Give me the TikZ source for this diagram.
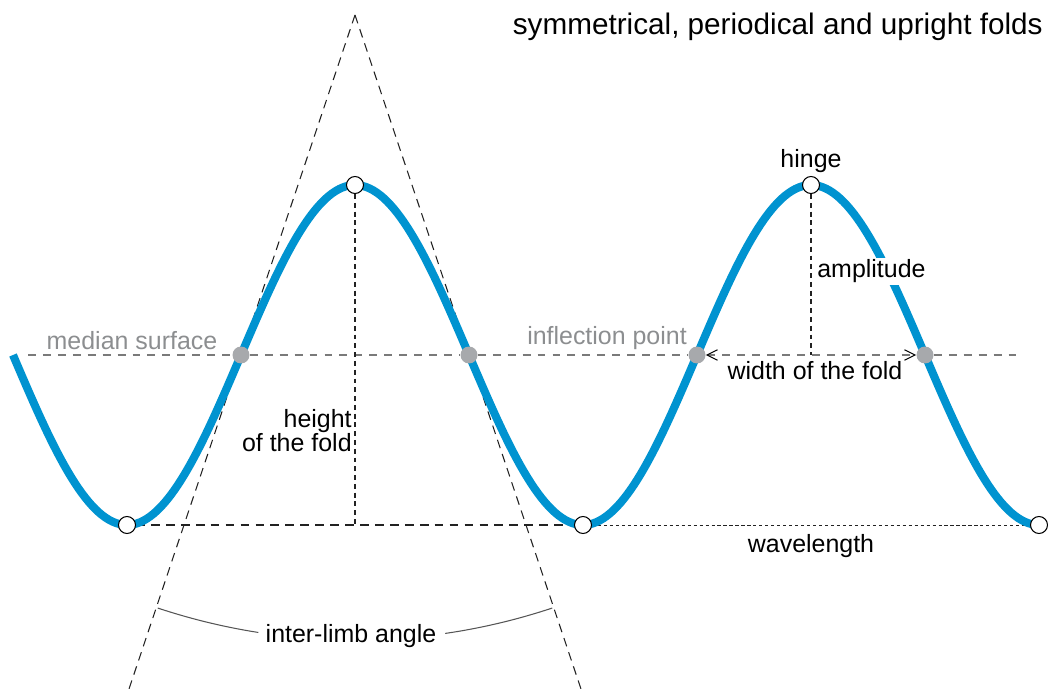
\documentclass[tikz,border=0pt]{standalone}
\usepackage{fontspec}
\setmainfont{Liberation Sans}
\usetikzlibrary{arrows.meta,backgrounds}
\definecolor{foldblue}{HTML}{0093D0}
\definecolor{dotgray}{HTML}{A7A9AC}
\definecolor{txtgray}{HTML}{8C8E90}
\definecolor{medgray}{HTML}{7A7A7A}
\definecolor{arcgray}{HTML}{555555}
\definecolor{guidegray}{HTML}{222222}
\begin{document}
\begin{tikzpicture}[x=0.02cm,y=-0.02cm,
  lbl/.style={font=\fontsize{14.2}{13.6}\selectfont, inner sep=0pt},
  ttl/.style={font=\fontsize{16.9}{20}\selectfont, inner sep=0pt},
  hingept/.style={circle, draw=black, fill=white, line width=0.6pt, minimum size=0.34cm, inner sep=0pt},
  inflpt/.style={circle, fill=dotgray, minimum size=0.34cm, inner sep=0pt},
  fold/.style={foldblue, line width=4.6pt},
  guide/.style={guidegray, line width=0.6pt, dash pattern=on 5pt off 3.5pt},
  vguide/.style={guidegray, line width=0.6pt, dash pattern=on 2.8pt off 2.2pt},
  median/.style={medgray, line width=0.6pt, dash pattern=on 4.5pt off 4pt},
  fine/.style={guidegray, line width=0.55pt, dash pattern=on 1.8pt off 1.6pt},
  barb/.tip={Straight Barb[length=6pt,width=6pt,color=black,line width=0.6pt]},
]
\useasboundingbox (0,0) rectangle (1048,692);

% points of the fold
\node[hingept] (t1) at (127,525) {};
\node[hingept] (t2) at (583,525) {};
\node[hingept] (t3) at (1039,525) {};
\node[hingept] (p1) at (355,185) {};
\node[hingept] (p2) at (811,185) {};
\node[inflpt] (i1) at (241,355) {};
\node[inflpt] (i2) at (469,355) {};
\node[inflpt] (i3) at (697,355) {};
\node[inflpt] (i4) at (925,355) {};

\coordinate (apex) at (355,15);
\coordinate (lend) at (128,692);
\coordinate (rend) at (582,692);
\coordinate (mleft) at (28,355);
\coordinate (mright) at (1022,355);

% labels
\node[ttl, anchor=base east] (title) at (1043,35) {symmetrical, periodical and upright folds};
\node[lbl, text=txtgray, anchor=base] (lmed) at (132,350) {median surface};
\node[lbl, text=txtgray, anchor=base] (linf) at (607,345) {inflection point};
\node[lbl, anchor=base] (lhinge) at (811,168) {hinge};
\node[lbl, anchor=base west, fill=white, inner ysep=1pt] (lamp) at (817,278) {amplitude};
\node[lbl, anchor=base] (lwidth) at (815,379) {width of the fold};
\node[lbl, anchor=base east, align=right] (lheight) at (352,451) {height\\of the fold};
\node[lbl, anchor=base] (lwave) at (811,552) {wavelength};
\node[lbl, anchor=base] (langle) at (351,642) {inter-limb angle};

\begin{pgfonlayer}{background}
  % median surface
  \draw[median] (mleft) -- (i1);
  \draw[median] (i1) -- (i2);
  \draw[median] (i2) -- (i3);
  \draw[median, barb-barb] (i3) -- (i4);
  \draw[median] (i4) -- (mright);
  % limbs (tangents)
  \draw[guide] (apex) -- (lend);
  \draw[guide] (apex) -- (rend);
  % height and amplitude
  \draw[vguide] (p1) -- (p1 |- t1);
  \draw[vguide] (p2) -- (p2 |- i3);
  % trough line and wavelength
  \draw[guide] (t1) -- (t2);
  \draw[fine] (t2) -- (t3);
  % inter-limb angle arc
  \draw[arcgray, line width=0.6pt] plot[domain=-18.4:-8.9, samples=30] ({355+625*sin(\x)}, {15+625*cos(\x)});
  \draw[arcgray, line width=0.6pt] plot[domain=8.3:18.4, samples=30] ({355+625*sin(\x)}, {15+625*cos(\x)});
  % the fold
  \draw[fold] plot[domain=13:1039, samples=300] (\x, {355-170*cos((\x-811)*0.789474)});
\end{pgfonlayer}
\end{tikzpicture}
\end{document}
